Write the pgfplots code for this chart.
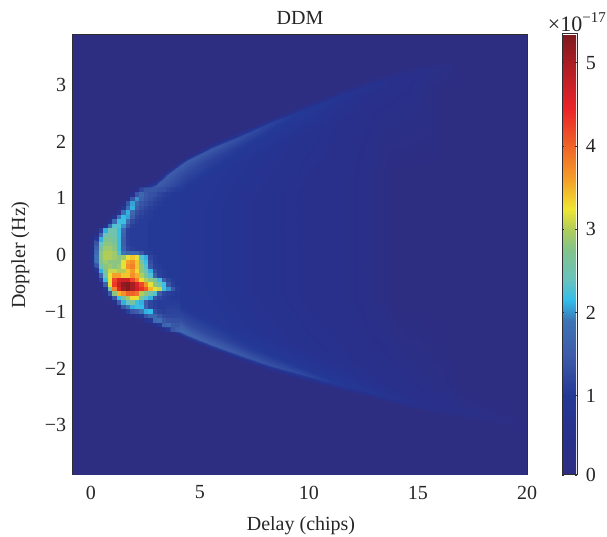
\documentclass[border=0pt]{standalone}
\usepackage{fontspec}
\setmainfont{Liberation Serif}
\usepackage{pgfplots}
\pgfplotsset{compat=1.18}
\definecolor{basec}{RGB}{45,46,130}
\definecolor{framec}{RGB}{45,45,50}
\begin{document}
\begin{tikzpicture}[x=1pt,y=1pt]
\fontsize{20}{24}\selectfont
\path[use as bounding box] (0,0) rectangle (607,537);
\begin{axis}[
 at={(73pt,62pt)},anchor=south west,
 scale only axis,width=454pt,height=440pt,
 xmin=-0.82,xmax=20,ymin=-3.88,ymax=3.88,
 axis background/.style={fill=basec},
 axis line style={color=framec,line width=1pt},
 colormap={ddm}{
  rgb255(5pt)=(45,46,130) rgb255(50pt)=(40,48,140) rgb255(100pt)=(36,56,150)
  rgb255(150pt)=(62,92,170) rgb255(190pt)=(60,115,180) rgb255(215pt)=(50,190,235)
  rgb255(240pt)=(105,195,190) rgb255(275pt)=(130,195,140) rgb255(300pt)=(175,205,90)
  rgb255(325pt)=(240,230,50) rgb255(360pt)=(245,160,40) rgb255(400pt)=(240,100,40)
  rgb255(445pt)=(235,35,40) rgb255(500pt)=(170,30,35) rgb255(535pt)=(125,25,30)},
 point meta min=0.05,point meta max=5.345,
 xtick={0,5,10,15,20},
 ytick={-3,-2,-1,0,1,2,3},
 yticklabels={−3,−2,−1,0,1,2,3},
 xticklabels={0,5,10,15,20},
 tick align=inside,major tick length=3pt,
 tick style={color=framec,line width=0.8pt},
 ticklabel style={font=\fontsize{20}{24}\selectfont,color=black!85},
 xticklabel style={yshift=-4pt},
 title={DDM},title style={font=\fontsize{20}{24}\selectfont,yshift=-2pt,color=black!85},
 xlabel={Delay (chips)},ylabel={Doppler (Hz)},
 xlabel style={yshift=-4pt,xshift=1pt},
 ylabel style={yshift=2pt},
 label style={font=\fontsize{20}{24}\selectfont,color=black!85},
 colorbar,
 colorbar style={
  at={(1.0771,0)},anchor=south west,width=15pt,height=441pt,
  scale only axis,
  ytick={0.05,1,2,3,4,5},yticklabels={0,1,2,3,4,5},
  axis line style={color=framec,line width=1pt},
  tick style={color=framec,line width=0.8pt},
  major tick length=2pt,
  yticklabel style={xshift=2pt},
  ticklabel style={font=\fontsize{20}{24}\selectfont,color=black!85},
 },
]
\addplot[surf,shader=interp,point meta=explicit,mesh/ordering=y varies,mesh/rows=13,mesh/cols=18]
 table[x=x,y=y,meta=v]{
x y v
-0.82 -3.88 0.05
-0.82 -1.02 0.05
-0.82 -0.92 0.05
-0.82 -0.75 0.05
-0.82 -0.45 0.05
-0.82 -0.33 0.05
-0.82 0.085 0.05
-0.82 0.5 0.05
-0.82 0.62 0.05
-0.82 0.92 0.05
-0.82 1.09 0.05
-0.82 1.19 0.05
-0.82 3.88 0.05
2 -3.88 0.05
2 -1.02 0.05
2 -0.92 0.05
2 -0.75 0.05
2 -0.45 0.05
2 -0.33 0.05
2 0.085 0.05
2 0.5 0.05
2 0.62 0.05
2 0.92 0.05
2 1.09 0.05
2 1.19 0.05
2 3.88 0.05
2.5 -3.88 0.05
2.5 -1.02 0.05
2.5 -0.92 1.6
2.5 -0.75 1.2
2.5 -0.45 1.0
2.5 -0.33 1.0
2.5 0.085 1.0
2.5 0.5 1.0
2.5 0.62 1.0
2.5 0.92 1.3
2.5 1.12 1.5
2.5 1.25 0.05
2.5 3.88 0.05
3 -3.88 0.05
3 -1.2 0.05
3 -1.1 1.8
3 -0.93 1.5
3 -0.63 1.0
3 -0.41 0.95
3 0.075 0.95
3 0.56 0.95
3 0.78 1.0
3 1.03 1.4
3 1.22 1.5
3 1.34 0.05
3 3.88 0.05
3.6 -3.88 0.05
3.6 -1.34 0.05
3.6 -1.24 1.9
3.6 -1.07 1.5
3.6 -0.77 1.0
3.6 -0.44 0.95
3.6 0.115 0.95
3.6 0.67 0.95
3.6 0.95 1.0
3.6 1.22 1.3
3.6 1.42 1.5
3.6 1.53 0.05
3.6 3.88 0.05
4.4 -3.88 0.05
4.4 -1.5 0.05
4.4 -1.4 1.7
4.4 -1.23 1.3
4.4 -0.93 0.95
4.4 -0.5 0.9
4.4 0.125 0.9
4.4 0.75 0.9
4.4 1.18 0.95
4.4 1.48 1.25
4.4 1.65 1.5
4.4 1.75 0.05
4.4 3.88 0.05
5.5 -3.88 0.05
5.5 -1.67 0.05
5.5 -1.57 1.55
5.5 -1.4 1.2
5.5 -1.1 0.9
5.5 -0.55 0.82
5.5 0.15 0.82
5.5 0.85 0.82
5.5 1.4 0.9
5.5 1.7 1.15
5.5 1.87 1.45
5.5 1.97 0.05
5.5 3.88 0.05
7 -3.88 0.05
7 -1.89 0.05
7 -1.79 1.45
7 -1.62 1.1
7 -1.32 0.8
7 -0.63 0.68
7 0.165 0.68
7 0.96 0.68
7 1.65 0.8
7 1.95 1.05
7 2.12 1.3
7 2.22 0.05
7 3.88 0.05
8.2 -3.88 0.05
8.2 -2.04 0.05
8.2 -1.94 1.35
8.2 -1.77 1.0
8.2 -1.47 0.72
8.2 -0.67 0.6
8.2 0.19 0.6
8.2 1.05 0.6
8.2 1.85 0.72
8.2 2.15 0.95
8.2 2.32 1.15
8.2 2.42 0.05
8.2 3.88 0.05
10 -3.88 0.05
10 -2.24 0.05
10 -2.14 1.2
10 -1.97 0.85
10 -1.67 0.6
10 -0.73 0.5
10 0.225 0.5
10 1.18 0.5
10 2.12 0.6
10 2.42 0.8
10 2.59 0.95
10 2.69 0.05
10 3.88 0.05
11.5 -3.88 0.05
11.5 -2.39 0.05
11.5 -2.29 1.0
11.5 -2.12 0.75
11.5 -1.82 0.55
11.5 -0.77 0.45
11.5 0.265 0.45
11.5 1.3 0.45
11.5 2.35 0.5
11.5 2.65 0.65
11.5 2.82 0.8
11.5 2.92 0.05
11.5 3.88 0.05
12.8 -3.88 0.05
12.8 -2.51 0.05
12.8 -2.41 0.85
12.8 -2.24 0.6
12.8 -1.94 0.45
12.8 -0.8 0.3
12.8 0.295 0.3
12.8 1.39 0.3
12.8 2.53 0.4
12.8 2.83 0.5
12.8 3.0 0.65
12.8 3.1 0.05
12.8 3.88 0.05
14 -3.88 0.05
14 -2.64 0.05
14 -2.54 0.7
14 -2.37 0.5
14 -2.07 0.4
14 -0.85 0.05
14 0.3 0.05
14 1.45 0.05
14 2.67 0.35
14 2.97 0.45
14 3.14 0.5
14 3.24 0.05
14 3.88 0.05
15 -3.88 0.05
15 -2.74 0.05
15 -2.64 0.55
15 -2.47 0.45
15 -2.17 0.3
15 -0.89 0.05
15 0.3 0.05
15 1.49 0.05
15 2.77 0.3
15 3.07 0.35
15 3.24 0.4
15 3.34 0.05
15 3.88 0.05
16.1 -3.88 0.05
16.1 -2.82 0.05
16.1 -2.72 0.45
16.1 -2.55 0.35
16.1 -2.25 0.2
16.1 -0.91 0.05
16.1 0.31 0.05
16.1 1.53 0.05
16.1 2.87 0.05
16.1 3.17 0.2
16.1 3.34 0.25
16.1 3.44 0.05
16.1 3.88 0.05
17 -3.88 0.05
17 -2.89 0.05
17 -2.79 0.35
17 -2.62 0.25
17 -2.32 0.05
17 -0.9 0.05
17 0.32 0.05
17 1.55 0.05
17 2.95 0.05
17 3.25 0.05
17 3.42 0.05
17 3.52 0.05
17 3.88 0.05
18.9 -3.88 0.05
18.9 -3.02 0.05
18.9 -2.92 0.2
18.9 -2.75 0.1
18.9 -2.45 0.05
18.9 -0.95 0.05
18.9 0.33 0.05
18.9 1.6 0.05
18.9 3.1 0.05
18.9 3.4 0.05
18.9 3.57 0.05
18.9 3.67 0.05
18.9 3.88 0.05
20 -3.88 0.05
20 -3.09 0.05
20 -2.99 0.05
20 -2.82 0.05
20 -2.52 0.05
20 -1 0.05
20 0.34 0.05
20 1.65 0.05
20 3.2 0.05
20 3.5 0.05
20 3.67 0.05
20 3.77 0.05
20 3.88 0.05
};
\addplot[matrix plot*,point meta=explicit,mesh/cols=20,mesh/rows=32]
 table[row sep=\\,header=false,meta index=0,
  x expr={(1.25+4.5*mod(\coordindex,20))/21.8},
  y expr={(65-4.5*floor(\coordindex/20))/56.67}]{
0\\0\\0\\0\\0\\0\\0\\0\\0\\0\\0.5\\1.2\\1.4\\1.4\\1.4\\1.35\\1.3\\1.2\\1.1\\1.05\\
0\\0\\0\\0\\0\\0\\0\\0\\0\\0.5\\1.4\\1.7\\1.45\\1.35\\1.3\\1.2\\1.1\\1.05\\1\\1\\
0\\0\\0\\0\\0\\0\\0\\0\\0.5\\1.4\\2\\1.6\\1.4\\1.3\\1.2\\1.1\\1.05\\1\\1\\1\\
0\\0\\0\\0\\0\\0\\0\\0.4\\1.4\\2.05\\1.7\\1.4\\1.3\\1.2\\1.1\\1.05\\1\\1\\1\\1\\
0\\0\\0\\0\\0\\0\\0\\1\\1.8\\2.1\\1.5\\1.3\\1.2\\1.1\\1.05\\1\\1\\1\\1\\1\\
0\\0\\0\\0\\0\\0\\0.7\\1.8\\2.1\\1.7\\1.3\\1.2\\1.1\\1.05\\1\\1\\1\\1\\1\\1\\
0\\0\\0\\0\\0\\0.7\\1.9\\2.15\\2.05\\1.5\\1.2\\1.1\\1.05\\1.05\\1\\1\\1\\1\\1\\1\\
0\\0\\0\\0\\0.7\\1.8\\2.2\\2.2\\1.8\\1.25\\1.1\\1.05\\1.05\\1\\1\\1\\1\\1\\1\\1\\
0\\0\\0\\0.6\\1.8\\2.3\\2.3\\2\\1.4\\1.1\\1.05\\1.05\\1.05\\1\\1\\1\\1\\1\\1\\1\\
0\\0.2\\1.1\\2.1\\2.5\\2.5\\2.2\\1.7\\1.1\\1.05\\1.05\\1.05\\1.05\\1\\1\\1\\1\\1\\1\\1\\
0\\0.5\\1.7\\2.4\\2.6\\2.5\\2.2\\1.6\\1.1\\1.05\\1.05\\1.05\\1.05\\1\\1\\1\\1\\1\\1\\1\\
0.1\\1\\2.1\\2.7\\2.7\\2.6\\2.2\\1.5\\1.1\\1.05\\1.05\\1.05\\1.05\\1\\1\\1\\1\\1\\1\\1\\
0.2\\1.4\\2.4\\2.8\\2.8\\2.7\\2.2\\1.5\\1.1\\1.05\\1.05\\1.05\\1.05\\1\\1\\1\\1\\1\\1\\1\\
0.3\\1.6\\2.6\\2.9\\2.9\\2.8\\2.2\\1.6\\1.2\\1.1\\1.05\\1.05\\1.05\\1\\1\\1\\1\\1\\1\\1\\
0.5\\1.8\\2.8\\3\\3\\2.9\\2.3\\1.9\\1.7\\1.7\\1.7\\1.4\\1.1\\1.05\\1\\1\\1\\1\\1\\1\\
0.6\\1.9\\2.8\\3\\3\\2.9\\2.8\\2.9\\3.2\\3.4\\3.2\\2.3\\2.1\\1.2\\1.05\\1\\1\\1\\1\\1\\
0.6\\1.9\\2.7\\2.9\\2.8\\2.8\\2.8\\3.2\\3.6\\3.7\\3.4\\2.6\\2.2\\1.3\\1.05\\1\\1\\1\\1\\1\\
0.3\\1.4\\2.5\\2.8\\2.9\\2.8\\2.9\\3.2\\3.7\\3.8\\3.4\\2.8\\2.3\\1.4\\1.1\\1.05\\1\\1\\1\\1\\
0.1\\0.9\\2.1\\2.7\\3.1\\3.1\\3\\3\\3.4\\3.6\\3.3\\2.8\\2.5\\2.1\\1.3\\1.1\\1.05\\1\\1\\1\\
0\\0.4\\1.7\\2.5\\3.2\\3.6\\3.6\\3.4\\3.4\\3.7\\3.5\\3\\2.7\\2.3\\1.6\\1.15\\1.05\\1\\1\\1\\
0\\0.1\\1.1\\2.2\\3.2\\4.2\\4.6\\4.7\\4.7\\4.2\\3.8\\3.3\\3\\2.8\\2.6\\2.2\\1.5\\1.2\\1.05\\1\\
0\\0\\0.5\\1.6\\3.2\\4.3\\4.8\\5.2\\5.3\\5\\4.6\\4.2\\3.7\\3.2\\2.8\\2.5\\2.2\\1.4\\1.1\\1\\
0\\0\\0.1\\0.9\\2.6\\3.8\\4.6\\5.1\\5.3\\5\\4.7\\4.4\\4.1\\3.5\\3.2\\3.1\\2.2\\2\\1.4\\1.05\\
0\\0\\0\\0.3\\1.4\\2.8\\3.5\\3.7\\4\\4\\3.9\\3\\2.8\\2.5\\2.3\\1.5\\1.2\\1.1\\1.05\\1\\
0\\0\\0\\0\\0.4\\1.4\\2.2\\2.6\\2.9\\3.3\\3.2\\2.6\\2.3\\2.1\\1.4\\1.2\\1.1\\1.05\\1\\1\\
0\\0\\0\\0\\0\\0.4\\1.5\\2.1\\2.4\\2.6\\2.2\\2.1\\1.5\\1.2\\1.1\\1.05\\1.05\\1.05\\1.05\\1.05\\
0\\0\\0\\0\\0\\0\\0.4\\1.4\\1.9\\2.1\\2.2\\2.15\\1.6\\1.2\\1.1\\1.05\\1.05\\1.1\\1.1\\1.1\\
0\\0\\0\\0\\0\\0\\0\\0.3\\1.1\\1.4\\1.5\\1.9\\2.1\\2.15\\1.3\\1.15\\1.1\\1.15\\1.15\\1.15\\
0\\0\\0\\0\\0\\0\\0\\0\\0\\0.3\\0.8\\1\\1.4\\1.7\\1.7\\1.4\\1.25\\1.2\\1.2\\1.2\\
0\\0\\0\\0\\0\\0\\0\\0\\0\\0\\0\\0.2\\0.7\\1\\1.75\\1.85\\1.45\\1.35\\1.3\\1.3\\
0\\0\\0\\0\\0\\0\\0\\0\\0\\0\\0\\0\\0\\0.2\\0.6\\1\\1.6\\1.7\\1.45\\1.4\\
0\\0\\0\\0\\0\\0\\0\\0\\0\\0\\0\\0\\0\\0\\0\\0.2\\0.5\\1\\1.4\\1.55\\
};
\end{axis}
\node[anchor=east,inner sep=0pt,text=black!85] at (606,515) {\fontsize{22}{24}\selectfont ×10\raisebox{9pt}{\fontsize{15}{18}\selectfont −17}};
\end{tikzpicture}
\end{document}
